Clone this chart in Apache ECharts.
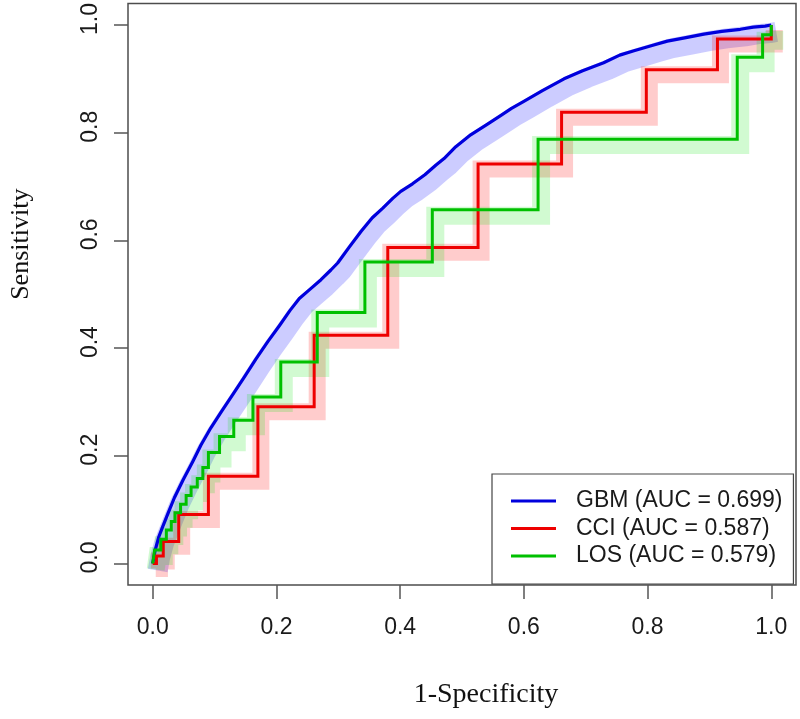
<!DOCTYPE html>
<html>
<head>
<meta charset="utf-8">
<script src="https://cdn.jsdelivr.net/npm/echarts@6/dist/echarts.min.js"></script>
<style>
html,body{margin:0;padding:0;background:#fff;}
#chart{width:800px;height:719px;}
</style>
</head>
<body>
<div id="chart"></div>
<script>
// ---- data ----
const tickValues = [0, 0.2, 0.4, 0.6, 0.8, 1.0];
const seriesNames = ['GBM (AUC = 0.699)', 'CCI (AUC = 0.587)', 'LOS (AUC = 0.579)'];

// GBM ROC curve: [1-specificity, sensitivity]
const gbm = [[0,0],[0.004,0.025],[0.01,0.05],[0.016,0.068],[0.025,0.094],[0.035,0.122],[0.049,0.155],
  [0.065,0.19],[0.078,0.22],[0.094,0.252],[0.111,0.282],[0.132,0.318],[0.148,0.346],[0.167,0.38],
  [0.186,0.412],[0.205,0.442],[0.222,0.47],[0.237,0.492],[0.255,0.51],[0.272,0.527],[0.288,0.545],
  [0.299,0.558],[0.318,0.588],[0.337,0.617],[0.355,0.642],[0.372,0.66],[0.388,0.678],[0.401,0.691],
  [0.42,0.705],[0.44,0.722],[0.458,0.74],[0.471,0.752],[0.49,0.774],[0.514,0.796],[0.54,0.815],
  [0.563,0.832],[0.58,0.845],[0.6,0.858],[0.63,0.878],[0.665,0.9],[0.695,0.915],[0.729,0.93],
  [0.755,0.944],[0.778,0.952],[0.81,0.963],[0.832,0.97],[0.86,0.976],[0.891,0.983],[0.92,0.988],
  [0.95,0.992],[0.971,0.996],[0.99,0.998],[1,1]];

// CCI ROC steps: at x, sensitivity jumps to y
const cci = [[0,0],[0.006,0.014],[0.017,0.041],[0.042,0.091],[0.090,0.162],[0.170,0.291],[0.261,0.424],
  [0.380,0.587],[0.526,0.742],[0.661,0.838],[0.798,0.917],[0.913,0.974],[1.0,1.0]];

// LOS ROC steps
const los = [[0,0],[0.003,0.025],[0.013,0.045],[0.022,0.062],[0.030,0.078],[0.036,0.094],[0.045,0.11],
  [0.054,0.126],[0.062,0.142],[0.072,0.158],[0.081,0.178],[0.090,0.206],[0.108,0.236],[0.131,0.266],
  [0.162,0.309],[0.207,0.374],[0.266,0.466],[0.343,0.560],[0.452,0.657],[0.623,0.788],[0.945,0.940],
  [0.986,0.982],[1.0,1.0]];

// ---- layout ----
const G = {left:127, top:1.5, width:669, height:583.5};
const pxX = 1.08 / G.width;   // data units per pixel (x)
const pxY = 1.08 / G.height;  // data units per pixel (y)
function shifted(arr, dxPx, dyPx){
  return arr.map(p => [p[0] + dxPx*pxX, p[1] - dyPx*pxY]);
}

const colors = ['#0000dd', '#ee0000', '#00c000'];
const bandColors = ['rgba(40,40,255,0.24)', 'rgba(255,0,0,0.2)', 'rgba(0,230,0,0.18)'];

const chart = echarts.init(document.getElementById('chart'), null, {renderer:'canvas'});
const sans = 'Liberation Sans, Arial, sans-serif';
const serif = 'Liberation Serif, Times New Roman, serif';

const option = {
  animation:false,
  backgroundColor:'#fff',
  grid:{left:G.left, top:G.top, width:G.width, height:G.height, show:true,
        borderColor:'#4d4d4d', borderWidth:1.5, backgroundColor:'transparent'},
  xAxis:{type:'value', min:-0.04, max:1.04,
    axisLine:{show:false, onZero:false},
    splitLine:{show:false},
    axisTick:{show:true, customValues:tickValues, length:14, lineStyle:{color:'#555', width:1.5}},
    axisLabel:{customValues:tickValues, formatter:v=>v.toFixed(1), fontSize:23, fontFamily:sans,
      color:'#1a1a1a', margin:31},
    name:'1-Specificity', nameLocation:'middle', nameGap:96,
    nameTextStyle:{fontFamily:serif, fontSize:28, color:'#111', padding:[0,0,0,48]}
  },
  yAxis:{type:'value', min:-0.04, max:1.04,
    axisLine:{show:false, onZero:false},
    splitLine:{show:false},
    axisTick:{show:true, customValues:tickValues, length:14, lineStyle:{color:'#555', width:1.5}},
    axisLabel:{customValues:tickValues, formatter:v=>v.toFixed(1), fontSize:23, fontFamily:sans,
      color:'#1a1a1a', rotate:90, margin:26, padding:[0,0,0,12]},
    name:'Sensitivity', nameLocation:'middle', nameGap:94, nameRotate:90,
    nameTextStyle:{fontFamily:serif, fontSize:26, color:'#111', padding:[0,0,0,100]}
  },
  legend:{data:seriesNames, left:492, top:474, orient:'vertical',
    padding:[14,11,15,19], itemGap:1.5, itemWidth:45, itemHeight:3, icon:'rect',
    borderColor:'#444', borderWidth:1.2, backgroundColor:'#fff',
    textStyle:{fontSize:23, lineHeight:26, fontFamily:sans, color:'#1a1a1a', padding:[0,0,0,15]},
    selectedMode:false},
  series:[
    {name:'gbm-band', type:'line', data:shifted(gbm,5,7), showSymbol:false, silent:true,
      lineStyle:{color:bandColors[0], width:20, join:'round', cap:'butt'}, z:1},
    {name:'cci-band', type:'line', step:'end', data:shifted(cci,3,5), showSymbol:false, silent:true,
      lineStyle:{color:bandColors[1], width:17, join:'miter', cap:'butt'}, z:1},
    {name:'los-band', type:'line', step:'end', data:shifted(los,3,6), showSymbol:false, silent:true,
      lineStyle:{color:bandColors[2], width:18, join:'miter', cap:'butt'}, z:1},
    {name:seriesNames[0], type:'line', data:gbm, showSymbol:false, color:colors[0],
      lineStyle:{color:colors[0], width:3.2, join:'round'}, z:3},
    {name:seriesNames[1], type:'line', step:'end', data:cci, showSymbol:false, color:colors[1],
      lineStyle:{color:colors[1], width:3, join:'miter'}, z:3},
    {name:seriesNames[2], type:'line', step:'end', data:los, showSymbol:false, color:colors[2],
      lineStyle:{color:colors[2], width:3, join:'miter'}, z:3}
  ]
};
chart.setOption(option);
</script>
</body>
</html>
